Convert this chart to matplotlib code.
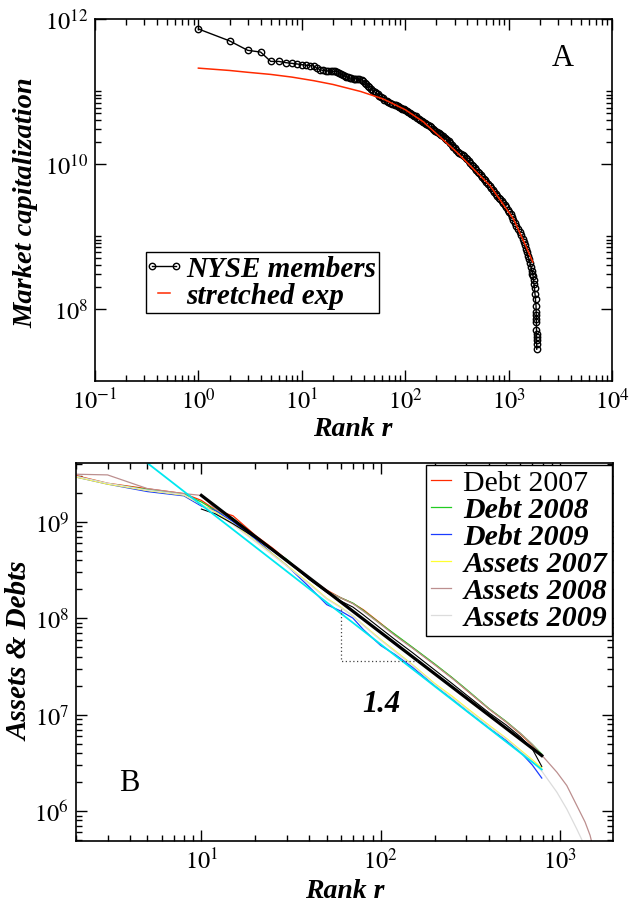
import numpy as np
import matplotlib
matplotlib.use('Agg')
import matplotlib.pyplot as plt
from matplotlib.ticker import FixedLocator, LogLocator, NullFormatter
from matplotlib.legend_handler import HandlerLine2D

plt.rcParams['font.family'] = 'Liberation Serif'
plt.rcParams['mathtext.fontset'] = 'stix'

# ---------------- panel A data ----------------
# NYSE members, rank vs market capitalization
nyse_rank = [1, 2, 3, 4, 5, 6, 7, 8, 9, 10, 11, 12, 13, 14, 15, 16, 17, 18, 19, 20,
             21, 22, 23, 24, 25, 26, 27, 28, 29, 30, 32, 33, 34, 36, 38, 39, 41, 42,
             44, 45, 47, 49, 51, 52, 54, 56, 58, 61, 63, 66, 68, 71, 75,
             80, 82, 85, 88, 91, 94, 97, 100, 104, 107, 111, 115, 119, 123, 127, 131,
             136, 140, 145, 150, 155, 160, 166, 172, 178, 184, 190, 196, 203, 210,
             217, 224, 232, 240, 248, 256, 265, 274, 284, 293, 303, 313, 324, 335,
             347, 359, 371, 383, 396, 410, 424, 438, 453, 468, 484, 501, 518, 535,
             553, 572, 591, 611, 632, 654, 676, 699, 722, 747, 772, 799, 826, 854,
             883, 913, 944, 976, 1009, 1044, 1079, 1115, 1153, 1192, 1233, 1275,
             1318, 1363, 1409, 1440, 1473, 1506, 1540, 1575, 1610, 1646, 1683, 1702,
             1722, 1741, 1761, 1780, 1800, 1820, 1841,
             1848, 1851, 1854, 1857, 1860, 1862, 1864, 1866, 1868, 1870]
nyse_cap = [7.3e11, 5.0e11, 3.7e11, 3.5e11, 2.6e11, 2.6e11, 2.5e11, 2.45e11, 2.4e11,
            2.35e11, 2.3e11, 2.28e11, 2.25e11, 2.1e11, 2.0e11, 1.95e11, 1.94e11,
            1.92e11, 1.91e11, 1.9e11, 1.89e11, 1.88e11, 1.8e11, 1.74e11, 1.68e11,
            1.63e11, 1.6e11, 1.57e11, 1.54e11, 1.52e11, 1.51e11, 1.5e11, 1.5e11,
            1.48e11, 1.44e11, 1.4e11, 1.32e11, 1.26e11, 1.18e11, 1.14e11, 1.08e11,
            1.03e11, 9.8e10, 9.5e10, 9.1e10, 8.7e10, 8.4e10, 8.0e10, 7.7e10, 7.4e10,
            7.2e10, 7.0e10, 6.8e10,
            6.6e10, 6.45e10, 6.3e10, 6.15e10, 6.0e10, 5.8e10, 5.65e10, 5.5e10, 5.4e10,
            5.2e10, 5.05e10, 4.9e10, 4.74e10, 4.62e10, 4.52e10, 4.3e10, 4.11e10,
            3.98e10, 3.86e10, 3.74e10, 3.62e10, 3.5e10, 3.4e10, 3.3e10, 3.19e10,
            3.06e10, 2.94e10, 2.85e10, 2.76e10, 2.67e10, 2.59e10, 2.49e10, 2.39e10,
            2.3e10, 2.21e10, 2.12e10, 2.04e10, 1.93e10, 1.83e10, 1.73e10, 1.64e10,
            1.55e10, 1.47e10, 1.42e10, 1.37e10, 1.32e10, 1.27e10, 1.21e10, 1.15e10,
            1.09e10, 1.03e10, 9.75e9, 9.25e9, 8.75e9, 8.27e9, 7.82e9, 7.4e9, 7.0e9,
            6.62e9, 6.26e9, 5.92e9, 5.6e9, 5.3e9, 4.98e9, 4.67e9, 4.38e9, 4.11e9,
            3.86e9, 3.62e9, 3.42e9, 3.24e9, 3.04e9, 2.85e9, 2.67e9, 2.51e9, 2.32e9,
            2.14e9, 2.0e9, 1.86e9, 1.7e9, 1.54e9, 1.4e9, 1.27e9, 1.15e9, 1.03e9,
            9.2e8, 8.3e8, 7.5e8, 6.7e8, 6.0e8, 5.4e8, 4.8e8, 4.3e8, 3.8e8, 3.3e8,
            3.05e8, 2.85e8, 2.5e8, 2.2e8, 1.9e8, 1.6e8, 1.35e8, 1.1e8,
            9.0e7, 8.1e7, 7.3e7, 6.6e7, 5.0e7, 4.5e7, 4.1e7, 3.66e7, 3.29e7, 2.75e7]

# stretched exponential fit
fit_rank = [1, 2, 3, 5, 8, 13, 20, 37, 61, 100, 150, 315, 661, 1112, 1400, 1714]
fit_cap = [2.1e11, 1.95e11, 1.84e11, 1.72e11, 1.58e11, 1.41e11, 1.25e11, 1.0e11,
           7.9e10, 5.6e10, 3.8e10, 1.45e10, 5.0e9, 1.74e9, 8.5e8, 4.4e8]

# ---------------- panel B data ----------------
rank_b = [2, 3, 5, 8, 10, 12, 15, 20, 25, 30, 40, 50, 60, 70, 80, 100, 120, 150,
          200, 250, 300, 400, 500, 600, 700, 790]
debt_2007 = [3.0e9, 2.5e9, 2.19e9, 1.95e9, 1.66e9, 1.32e9, 1.15e9, 7.2e8, 5.3e8, 4.0e8,
             2.6e8, 1.95e8, 1.62e8, 1.42e8, 1.22e8, 8.8e7, 6.7e7, 4.95e7, 3.3e7, 2.4e7,
             1.8e7, 1.15e7, 8.4e6, 6.3e6, 4.8e6, 3.7e6]
debt_2008 = [2.95e9, 2.48e9, 2.15e9, 1.92e9, 1.6e9, 1.3e9, 1.08e9, 7.0e8, 5.1e8, 4.05e8,
             2.55e8, 1.9e8, 1.62e8, 1.43e8, 1.2e8, 8.7e7, 6.8e7, 5.0e7, 3.35e7, 2.42e7,
             1.83e7, 1.16e7, 8.5e6, 6.4e6, 4.9e6, 3.9e6]
debt_2009 = [2.9e9, 2.45e9, 2.05e9, 1.85e9, 1.45e9, 1.3e9, 1.0e9, 6.6e8, 4.6e8, 3.5e8,
             2.1e8, 1.38e8, 1.18e8, 1.0e8, 7.6e7, 5.2e7, 4.2e7, 3.1e7, 2.0e7, 1.45e7,
             1.1e7, 7.3e6, 5.4e6, 4.1e6, 3.0e6, 2.2e6]
assets_2007 = [2.9e9, 2.45e9, 2.1e9, 1.88e9, 1.5e9, 1.25e9, 9.5e8, 6.3e8, 4.6e8, 3.5e8,
               2.3e8, 1.6e8, 1.3e8, 1.05e8, 8.5e7, 6.0e7, 4.6e7, 3.3e7, 2.1e7, 1.55e7,
               1.18e7, 7.8e6, 5.7e6, 4.3e6, 3.4e6, 2.8e6]
assets_2008 = [3.1e9, 3.05e9, 2.2e9, 1.95e9, 1.87e9, 1.35e9, 1.05e9, 6.9e8, 5.0e8, 3.9e8,
               2.55e8, 1.9e8, 1.62e8, 1.41e8, 1.18e8, 8.6e7, 6.6e7, 4.9e7, 3.28e7, 2.38e7,
               1.8e7, 1.15e7, 8.4e6, 6.4e6, 4.9e6, 3.8e6]
assets_2009 = [2.95e9, 2.5e9, 2.12e9, 1.9e9, 1.5e9, 1.22e9, 9.3e8, 6.2e8, 4.5e8, 3.45e8,
               2.25e8, 1.58e8, 1.28e8, 1.06e8, 8.4e7, 5.9e7, 4.5e7, 3.25e7, 2.05e7, 1.5e7,
               1.15e7, 7.6e6, 5.6e6, 4.2e6, 3.3e6, 2.6e6]
# tails of the assets curves beyond rank 790
tail_rank_2008 = [790, 959, 1089, 1239, 1377, 1469, 1507]
tail_2008 = [3.8e6, 2.53e6, 1.84e6, 1.14e6, 7.7e5, 5.6e5, 4.6e5]
tail_rank_2009 = [790, 959, 1089, 1239, 1318, 1345]
tail_2009 = [2.6e6, 1.57e6, 1.05e6, 6.5e5, 5.1e5, 4.5e5]

# unlabelled thin black series
other_rank = [10, 12, 15, 20, 25, 30, 40, 50, 60, 70, 80, 100, 120, 150, 200, 250, 300,
              400, 500, 600, 700, 790]
other_val = [1.35e9, 1.2e9, 9.5e8, 6.8e8, 5.0e8, 3.9e8, 2.5e8, 1.85e8, 1.5e8, 1.3e8,
             1.08e8, 7.8e7, 6.0e7, 4.4e7, 2.9e7, 2.1e7, 1.6e7, 1.05e7, 7.8e6, 5.9e6,
             4.4e6, 2.9e6]

# power-law guide lines and slope triangle
black_fit_rank = [10, 790]
black_fit_val = [1.87e9, 3.76e6]
cyan_fit_rank = [5, 790]
cyan_fit_val = [4.05e9, 2.7e6]
tri_rank = [60, 60, 160]
tri_val = [1.24e8, 3.6e7, 3.6e7]

series_b = [('Debt 2007', debt_2007, '#ff2a00'),
            ('Debt 2008', debt_2008, '#22cc22'),
            ('Debt 2009', debt_2009, '#1a3cff'),
            ('Assets 2007', assets_2007, '#ffff30'),
            ('Assets 2008', assets_2008, '#bc8f8f'),
            ('Assets 2009', assets_2009, '#dcdcdc')]

fig = plt.figure(figsize=(6.29, 9.04), dpi=100)
axA = fig.add_axes([0.151, 0.5774, 0.822, 0.4004])
axB = fig.add_axes([0.1208, 0.0686, 0.8537, 0.4181])

bi = dict(weight='bold', style='italic')

# ---------------- panel A ----------------
nyse_line, = axA.plot(nyse_rank, nyse_cap, '-o', color='black', lw=1.0, ms=4.6,
                      mfc='none', mew=1.0, label='NYSE members')
axA.plot(fit_rank, fit_cap, color='#ff2a00', lw=1.1, label='stretched exp')
axA.set_xscale('log')
axA.set_yscale('log')
axA.set_xlim(1e-1, 1e4)
axA.set_ylim(1e7, 1e12)
axA.set_xticks([1e-1, 1e0, 1e1, 1e2, 1e3, 1e4])
axA.set_xticklabels([r'$10^{-1}$', r'$10^{0}$', r'$10^{1}$', r'$10^{2}$',
                     r'$10^{3}$', r'$10^{4}$'])
axA.set_yticks([1e8, 1e10, 1e12])
axA.set_yticklabels([r'$10^{8}$', r'$10^{10}$', r'$10^{12}$'])
axA.xaxis.set_minor_locator(LogLocator(base=10, subs=range(2, 10)))
axA.yaxis.set_minor_locator(FixedLocator([k * 10.0 ** e for e in (8, 10)
                                          for k in range(2, 11)]))
axA.xaxis.set_minor_formatter(NullFormatter())
axA.yaxis.set_minor_formatter(NullFormatter())
axA.text(0.905, 0.895, 'A', transform=axA.transAxes, ha='center', va='center',
         fontsize=22)
legA = axA.legend(loc='upper left', bbox_to_anchor=(0.0986, 0.357), borderaxespad=0,
                  numpoints=2, handlelength=1.0, handletextpad=0.25, labelspacing=0.0,
                  borderpad=0.12, fancybox=False, framealpha=1, edgecolor='black',
                  prop=dict(size=21, **bi),
                  handler_map={nyse_line: HandlerLine2D(marker_pad=0.1, numpoints=2)})
legA.get_frame().set_linewidth(1.0)

# ---------------- panel B ----------------
for name, vals, col in series_b:
    axB.plot(rank_b, vals, color=col, lw=0.9, label=name)
axB.plot(tail_rank_2008, tail_2008, color='#bc8f8f', lw=0.9)
axB.plot(tail_rank_2009, tail_2009, color='#dcdcdc', lw=0.9)
axB.plot(other_rank, other_val, color='black', lw=0.8)
axB.plot(cyan_fit_rank, cyan_fit_val, color='#00e8f0', lw=1.3)
axB.plot(black_fit_rank, black_fit_val, color='black', lw=2.3)
axB.plot(tri_rank, tri_val, color='#444444', lw=0.9, ls=(0, (1, 2)))
axB.set_xscale('log')
axB.set_yscale('log')
axB.set_xlim(2, 1970)
axB.set_ylim(4.9e5, 4.05e9)
axB.set_xticks([1e1, 1e2, 1e3])
axB.set_xticklabels([r'$10^{1}$', r'$10^{2}$', r'$10^{3}$'])
axB.set_yticks([1e6, 1e7, 1e8, 1e9])
axB.set_yticklabels([r'$10^{6}$', r'$10^{7}$', r'$10^{8}$', r'$10^{9}$'])
axB.xaxis.set_minor_locator(LogLocator(base=10, subs=range(2, 10)))
axB.yaxis.set_minor_locator(LogLocator(base=10, subs=range(2, 10)))
axB.xaxis.set_minor_formatter(NullFormatter())
axB.yaxis.set_minor_formatter(NullFormatter())
axB.text(0.1, 0.156, 'B', transform=axB.transAxes, ha='center', va='center',
         fontsize=22)
axB.text(0.568, 0.365, '1.4', transform=axB.transAxes, ha='center', va='center',
         fontsize=22, **bi)
legB = axB.legend(loc='upper right', bbox_to_anchor=(0.9976, 0.9947), borderaxespad=0,
                  handlelength=0.7, handletextpad=0.4, labelspacing=0.0,
                  borderpad=0.15, fancybox=False, framealpha=1, edgecolor='black',
                  prop=dict(size=21.5, **bi))
legB.get_frame().set_linewidth(1.0)
legB.get_texts()[0].set_fontweight('normal')
legB.get_texts()[0].set_fontstyle('normal')

for ax in (axA, axB):
    ax.tick_params(which='both', direction='in', top=True, right=True, width=1,
                   labelsize=17.5, pad=5)
    ax.tick_params(which='major', length=8)
    ax.tick_params(which='minor', length=4.5)
    for sp in ax.spines.values():
        sp.set_linewidth(1.2)

fig.text(26 / 629, 1 - 203 / 904, 'Market capitalization', rotation=90,
         ha='center', va='center', fontsize=20.5, **bi)
fig.text(353 / 629, 1 - 430 / 904, 'Rank r', ha='center', va='center',
         fontsize=20, **bi)
fig.text(20 / 629, 1 - 651 / 904, 'Assets & Debts', rotation=90,
         ha='center', va='center', fontsize=21, **bi)
fig.text(345 / 629, 1 - 892 / 904, 'Rank r', ha='center', va='center',
         fontsize=20, **bi)

fig.savefig('out.png', dpi=100)
